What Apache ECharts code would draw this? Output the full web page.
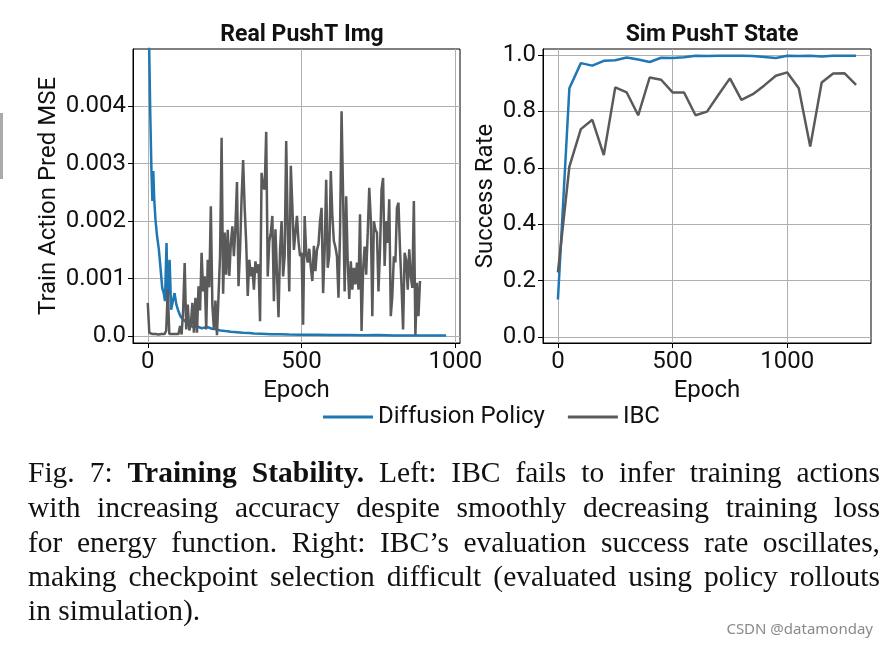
<!DOCTYPE html>
<html><head><meta charset="utf-8">
<script src="https://cdn.jsdelivr.net/npm/echarts@6/dist/echarts.min.js"></script>
<style>
html,body{margin:0;padding:0;background:#fff;width:889px;height:645px;overflow:hidden}
#chart{position:absolute;left:0;top:0;width:889px;height:645px}
.cap{position:absolute;left:28px;width:852px;font-family:'Liberation Serif','Times New Roman',serif;font-size:29.5px;line-height:34px;color:#111;text-align:justify;text-align-last:justify;z-index:2}
.cap.last{text-align-last:left}
#wm{position:absolute;right:16px;top:618px;font-family:'Noto Sans',sans-serif;font-size:15px;color:#8a8a8a;z-index:2}
#bar{position:absolute;left:0;top:113px;width:3px;height:66px;background:#aaa;z-index:2}
</style></head>
<body>
<div id="chart"></div>
<div id="bar"></div>
<div class="cap" style="top:455px">Fig. 7: <b>Training Stability.</b> Left: IBC fails to infer training actions</div>
<div class="cap" style="top:490px">with increasing accuracy despite smoothly decreasing training loss</div>
<div class="cap" style="top:525px">for energy function. Right: IBC’s evaluation success rate oscillates,</div>
<div class="cap" style="top:559px">making checkpoint selection difficult (evaluated using policy rollouts</div>
<div class="cap last" style="top:593px">in simulation).</div>
<div id="wm">CSDN @datamonday</div>
<script>
// ---- Left panel: Real PushT Img (Train Action Pred MSE) ----
const dpEpochsL = [0,8,12,15,18,21,25,30,36,42,47,52,56,61,65,71,76,81,87,93,100,106,115,128,140,149,160,176,193,209,222,236,252,270,290,310,330,345,370,400,430,460,500,550,600,650,700,750,800,850,900,950,970];
const dpMseL = [0.0065,0.0039,0.00287,0.00235,0.00287,0.00238,0.00203,0.00175,0.00151,0.00115,0.00084,0.00075,0.00061,0.00162,0.00058,0.00133,0.00046,0.00043,0.00075,0.00055,0.00043,0.00035,0.00029,0.00023,0.00018,0.00016,0.00017,0.00014,0.00016,0.00013,0.00012,0.0001,0.00009,0.00008,0.00007,0.00006,0.000055,0.00005,0.000045,0.000035,0.000035,0.00003,0.000025,0.000025,0.00002,0.00002,0.000018,0.00002,0.000015,0.000015,0.000012,0.000012,0.000012];
const ibcEpochsL = [0,5,10,15,20,25,30,35,40,45,50,55,60,65,70,75,80,85,90,95,100,105,110,115,120,125,130,135,140,145,150,155,160,165,170,175,180,185,190,195,200,205,210,215,220,225,230,235,240,245,250,255,260,265,270,275,280,285,290,295,300,305,310,315,320,325,330,335,340,345,350,355,360,365,370,375,380,385,390,395,400,405,410,415,420,425,430,435,440,445,450,455,460,465,470,475,480,485,490,495,500,505,510,515,520,525,530,535,540,545,550,555,560,565,570,575,580,585,590,595,600,605,610,615,620,625,630,635,640,645,650,655,660,665,670,675,680,685,690,695,700,705,710,715,720,725,730,735,740,745,750,755,760,765,770,775,780,785,790,795,800,805,810,815,820,825,830,835,840,845,850,855,860,865,870,875,880,885];
const ibcMseL = [0.00058,0.00006,0.00005,0.00004,0.00005,0.00004,0.00004,0.00003,0.00004,0.00004,0.00005,0.00004,0.0001,0.00081,0.00004,0.00003,0.00004,0.00003,0.00004,0.00005,0.00004,0.00018,0.00003,0.00045,0.00127,0.00012,0.00055,0.0001,0.0002,0.00058,0.00006,0.00067,0.00006,0.00087,0.00045,0.00145,0.00078,0.00104,0.00012,0.00133,0.00085,0.00226,0.00055,0.00012,0.00062,0.00002,0.0007,0.0014,0.00345,0.00074,0.0018,0.00107,0.00185,0.00105,0.0016,0.00191,0.00139,0.0019,0.00268,0.00087,0.0015,0.0024,0.00306,0.00223,0.00162,0.0007,0.00133,0.00104,0.0012,0.00081,0.0013,0.0011,0.00125,0.00026,0.00284,0.0026,0.00255,0.00355,0.00104,0.00165,0.0018,0.00209,0.00061,0.00186,0.0011,0.00033,0.0015,0.002,0.00104,0.00139,0.00339,0.00186,0.00078,0.00296,0.00226,0.0015,0.0018,0.00209,0.00165,0.00139,0.00145,0.0002,0.00209,0.00145,0.00128,0.00152,0.0012,0.00096,0.00157,0.00113,0.0015,0.0016,0.002,0.00223,0.00075,0.0015,0.00272,0.00119,0.0014,0.00287,0.0021,0.00165,0.00155,0.00139,0.00067,0.0018,0.00391,0.00243,0.00078,0.00243,0.00128,0.00065,0.0013,0.00081,0.00119,0.0009,0.00128,0.00081,0.00212,0.00009,0.00116,0.00156,0.00107,0.0018,0.00258,0.00203,0.00035,0.002,0.00185,0.0018,0.00078,0.0015,0.00255,0.00275,0.00122,0.002,0.00162,0.00238,0.00035,0.0007,0.00139,0.00128,0.00223,0.00232,0.00151,0.00087,0.00012,0.00145,0.00133,0.00081,0.00151,0.00104,0.00084,0.00235,0.00002,0.00093,0.00035,0.00096];
// ---- Right panel: Sim PushT State (Success Rate) ----
const simEpochs = [0,50,100,150,200,250,300,350,400,450,500,550,600,650,700,750,800,850,900,950,1000,1050,1100,1150,1200,1250,1300];
const dpSuccess = [0.133,0.882,0.971,0.962,0.979,0.981,0.991,0.984,0.975,0.99,0.989,0.992,0.997,0.996,0.997,0.997,0.997,0.996,0.993,0.989,0.997,0.996,0.997,0.994,0.997,0.997,0.997];
const ibcSuccess = [0.229,0.604,0.737,0.77,0.645,0.885,0.867,0.786,0.92,0.912,0.867,0.867,0.786,0.799,0.859,0.917,0.841,0.861,0.892,0.926,0.938,0.882,0.675,0.902,0.934,0.935,0.894];
const xTicksL = [0,500,1000];
const yTicksL = [0,0.001,0.002,0.003,0.004];
const xTicksR = [0,500,1000];
const yTicksR = [0,0.2,0.4,0.6,0.8,1.0];
const titles = ['Real PushT Img','Sim PushT State'];
const seriesNames = ['Diffusion Policy','IBC'];

const FONT = 'Roboto';
const FS = 24;
const TXT = '#111';
const BLUE = '#1f77b4';
const GRAY = '#5a5a5a';
const pairs = (xs, ys) => xs.map((x, i) => [x, ys[i]]);
const near = (v, list) => list.find(t => Math.abs(t - v) < 1e-9);

function xAxisCfg(grid, min, max, ticks) {
  return {
    gridIndex: grid, type: 'value', min: min, max: max, minInterval: 500, maxInterval: 500,
    name: 'Epoch', nameLocation: 'middle', nameGap: 36,
    nameTextStyle: {fontSize: FS, color: TXT, fontFamily: FONT},
    axisLine: {show: true, onZero: false, lineStyle: {color: '#000', width: 1}},
    axisTick: {show: true, inside: false, length: 5, customValues: ticks, lineStyle: {color: '#000'}},
    axisLabel: {fontSize: FS, color: TXT, fontFamily: FONT, margin: 7,
      formatter: v => near(v, ticks) !== undefined ? String(near(v, ticks)) : ''},
    splitLine: {show: true, lineStyle: {color: '#b0b0b0', width: 1}}
  };
}
function yAxisCfg(grid, min, max, iv, ticks, name, gap, fmt) {
  return {
    gridIndex: grid, type: 'value', min: min, max: max, minInterval: iv, maxInterval: iv,
    name: name, nameLocation: 'middle', nameGap: gap,
    nameTextStyle: {fontSize: FS, color: TXT, fontFamily: FONT},
    axisLine: {show: true, onZero: false, lineStyle: {color: '#000', width: 1}},
    axisTick: {show: true, inside: false, length: 5, customValues: ticks, lineStyle: {color: '#000'}},
    axisLabel: {fontSize: FS, color: TXT, fontFamily: FONT, margin: 7,
      formatter: v => { const t = near(v, ticks); return t === undefined ? '' : fmt(t); }},
    splitLine: {show: true, lineStyle: {color: '#b0b0b0', width: 1}}
  };
}
function lineSeries(name, xi, data, color) {
  return {type: 'line', name: name, xAxisIndex: xi, yAxisIndex: xi, data: data,
    showSymbol: false, symbol: 'none', clip: true, animation: false,
    lineStyle: {width: 2.5, color: color}, itemStyle: {color: color}};
}

const chart = echarts.init(document.getElementById('chart'), null, {renderer: 'canvas'});
chart.setOption({
  animation: false,
  backgroundColor: '#fff',
  title: [
    {text: titles[0], left: 297, top: 19, textAlign: 'center', textStyle: {fontSize: 23, fontWeight: 'bold', color: TXT, fontFamily: FONT}},
    {text: titles[1], left: 707, top: 19, textAlign: 'center', textStyle: {fontSize: 23, fontWeight: 'bold', color: TXT, fontFamily: FONT}}
  ],
  grid: [
    {left: 133, top: 49, width: 327, height: 294, show: true, borderColor: '#000', borderWidth: 1, backgroundColor: 'transparent'},
    {left: 543, top: 49, width: 328, height: 294, show: true, borderColor: '#000', borderWidth: 1, backgroundColor: 'transparent'}
  ],
  xAxis: [xAxisCfg(0, -48, 1015, xTicksL), xAxisCfg(1, -65, 1365, xTicksR)],
  yAxis: [
    yAxisCfg(0, -0.000117, 0.00499, 0.001, yTicksL, 'Train Action Pred MSE', 72, t => t === 0 ? '0.0' : t.toFixed(3)),
    yAxisCfg(1, -0.021, 1.021, 0.2, yTicksR, 'Success Rate', 45, t => t.toFixed(1))
  ],
  legend: {
    left: 318, top: 400, itemWidth: 50, itemHeight: 3, itemGap: 23, icon: 'rect',
    data: seriesNames,
    textStyle: {fontSize: FS, color: TXT, fontFamily: FONT, padding: [0, 0, 0, 0]}
  },
  series: [
    lineSeries(seriesNames[0], 0, pairs(dpEpochsL, dpMseL), BLUE),
    lineSeries(seriesNames[1], 0, pairs(ibcEpochsL, ibcMseL), GRAY),
    lineSeries(seriesNames[0], 1, pairs(simEpochs, dpSuccess), BLUE),
    lineSeries(seriesNames[1], 1, pairs(simEpochs, ibcSuccess), GRAY)
  ]
});
</script>
</body></html>
